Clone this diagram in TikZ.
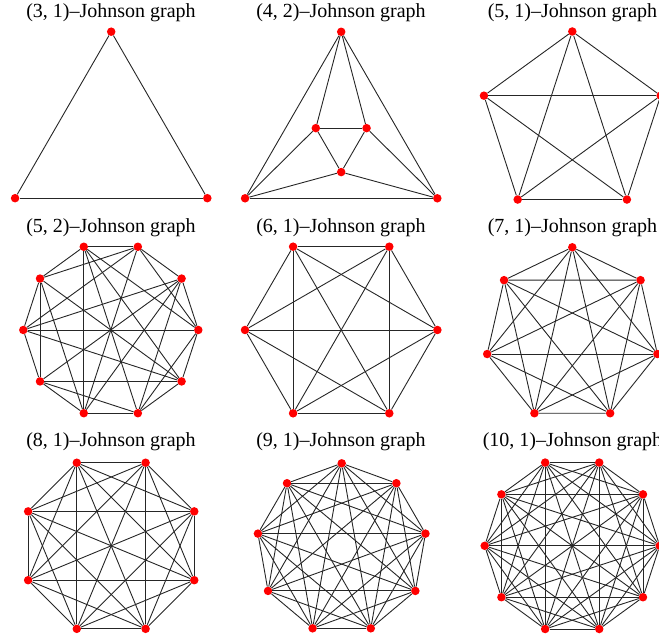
\documentclass[tikz,border=0pt]{standalone}
\usepackage{fontspec}
\setmainfont{Liberation Serif}

\begin{document}
\begin{tikzpicture}[x=1pt,y=1pt,
                        vertex/.style={circle,fill=red,inner sep=0pt,minimum size=8.5pt},
                        link/.style={black!85,line width=0.9pt},
                        title/.style={anchor=base,font=\fontsize{20}{24}\selectfont}]
                        \useasboundingbox (0,0) rectangle (659,639);
                        \node[title] (t1) at (111,621.5) {(3, 1)--Johnson graph};
                        \node[title] (t2) at (341,621.5) {(4, 2)--Johnson graph};
                        \node[title] (t3) at (572.5,621.5) {(5, 1)--Johnson graph};
                        \node[title] (t4) at (111,406.5) {(5, 2)--Johnson graph};
                        \node[title] (t5) at (341,406.5) {(6, 1)--Johnson graph};
                        \node[title] (t6) at (572.5,406.5) {(7, 1)--Johnson graph};
                        \node[title] (t7) at (111,192) {(8, 1)--Johnson graph};
                        \node[title] (t8) at (341,192) {(9, 1)--Johnson graph};
                        \node[title] (t9) at (572.5,192) {(10, 1)--Johnson graph};
                        \foreach \n/\cx/\cy/\r/\a in {3/111.2/496.3/111/90, 5/572.3/514.6/92.9/90,
                                6/341.2/309/96.2/0, 7/572.3/304.4/87.3/90, 8/111.2/93.2/89.9/22.5,
                                9/341.7/90.6/85.06/90, 10/572.2/93.2/87.5/0} {
                            \pgfmathtruncatemacro\last{\n-1}
                            \foreach \k in {0,...,\last} {
                                \node[vertex] (k\n-\k) at ([shift={(\cx,\cy)}]\a+360/\n*\k:\r) {};
                            }
                            \foreach \i in {1,...,\last} {
                                \pgfmathtruncatemacro\prev{\i-1}
                                \foreach \j in {0,...,\prev} {
                                    \draw[link] (k\n-\i) -- (k\n-\j);
                                }
                            }
                        }
                        \begin{scope}[shift={(341.2,496.2)}]
                            \foreach \k in {0,1,2} {
                                \node[vertex] (o\k) at (90+120*\k:111) {};
                                \node[vertex] (i\k) at (150-120*\k:29.3) {};
                            }
                            \foreach \u/\v in {o0/o1,o0/o2,o1/o2,o0/i0,o0/i1,i0/i1,i0/i2,i1/i2,o1/i0,o1/i2,o2/i1,o2/i2} {
                                \draw[link] (\u) -- (\v);
                            }
                        \end{scope}
                        \begin{scope}[shift={(110.8,309)}]
                            \foreach \k in {0,...,9} {
                                \node[vertex] (p\k) at (36*\k:87.5) {};
                            }
                            \foreach \u/\v in {0/1,0/2,0/3,0/5,0/8,0/9,1/2,1/5,1/6,1/7,1/8,2/3,2/4,2/5,2/7,
                                    3/4,3/7,3/8,3/9,4/5,4/6,4/7,4/9,5/6,5/9,6/7,6/8,6/9,7/8,8/9} {
                                \draw[link] (p\u) -- (p\v);
                            }
                        \end{scope}
                    \end{tikzpicture}
\end{document}
